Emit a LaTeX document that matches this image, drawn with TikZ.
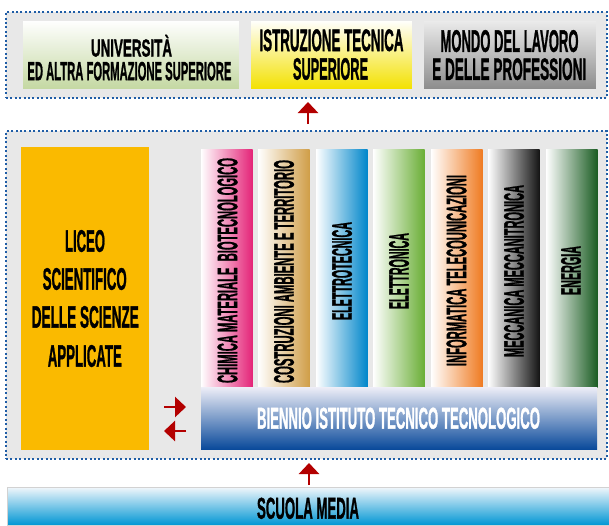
\documentclass[tikz,border=0pt]{standalone}
\usepackage{fontspec}
\usepackage{graphicx}
\usetikzlibrary{arrows.meta}
\newfontfamily\agfont{Liberation Sans}[FakeBold=1.6]
\newcommand{\ag}[3]{\resizebox*{#1pt}{#2pt}{\agfont\bfseries #3}}
\definecolor{dotblue}{HTML}{1F5DA6}
\definecolor{panelgray}{HTML}{E8E8E8}
\definecolor{arrred}{HTML}{B30000}
\definecolor{liceoc}{HTML}{FABA00}
\definecolor{c1}{HTML}{E42478}
\definecolor{c2}{HTML}{D09E48}
\definecolor{c3}{HTML}{0086CA}
\definecolor{c4}{HTML}{6AAE36}
\definecolor{c5}{HTML}{EF7B22}
\definecolor{c6}{HTML}{141414}
\definecolor{c7}{HTML}{1A5C22}
\definecolor{univb}{HTML}{C4D8A2}
\definecolor{istrb}{HTML}{F3E100}
\definecolor{mondot}{HTML}{ECECEC}
\definecolor{mondob}{HTML}{8C8C8C}
\definecolor{bientop}{HTML}{EEEEF7}
\definecolor{bienmid}{HTML}{8593C4}
\definecolor{bienbot}{HTML}{0A4A9B}
\definecolor{scuotop}{HTML}{F2F7FB}
\definecolor{scuomid}{HTML}{92C8EA}
\definecolor{scuobot}{HTML}{0096D4}
\tikzset{
  panel/.style={draw=dotblue, line width=2pt, dash pattern=on 2pt off 2.4pt, fill=panelgray},
  rbox/.style={anchor=north west, inner sep=0pt, outer sep=0pt},
  tbox/.style={rbox, draw=white!82!gray, line width=0.6pt},
  colbox/.style={rbox, left color=white, right color=#1, minimum width=51.5pt, minimum height=238pt},
  txt/.style={inner sep=0pt, outer sep=0pt},
  vtxt/.style={txt, rotate=90},
  arr/.style={-{Triangle[length=11pt,width=20pt]}, line width=2.6pt, draw=arrred}
}
\begin{document}
\begin{tikzpicture}[x=1pt,y=-1pt]
\useasboundingbox (0,0) rectangle (609,525);
% panels
\node[panel, rbox, minimum width=601pt, minimum height=86pt] (toppanel) at (6,12) {};
\node[panel, rbox, minimum width=601pt, minimum height=327.5pt] (midpanel) at (6,131) {};
% top boxes
\node[tbox, top color=white, bottom color=univb, minimum width=217pt, minimum height=69pt] (univ) at (22,20) {};
\node[tbox, top color=white, bottom color=istrb, minimum width=162pt, minimum height=69pt] (istr) at (250,20) {};
\node[tbox, top color=mondot, bottom color=mondob, minimum width=173pt, minimum height=69pt] (mondo) at (423,20) {};
\node[txt] (univt1) at (131.5,45.8) {\ag{81}{21.9}{UNIVERSITÀ}};
\node[txt] (univt2) at (129.4,71.2) {\ag{204}{18.6}{ED ALTRA FORMAZIONE SUPERIORE}};
\node[txt] (istrt1) at (331.5,40.3) {\ag{144}{22}{ISTRUZIONE TECNICA}};
\node[txt] (istrt2) at (330.5,69) {\ag{75}{21.8}{SUPERIORE}};
\node[txt] (mondot1) at (509.5,41.1) {\ag{138}{22}{MONDO DEL LAVORO}};
\node[txt] (mondot2) at (509.2,69.2) {\ag{154}{21.8}{E DELLE PROFESSIONI}};
% liceo
\node[rbox, fill=liceoc, minimum width=128pt, minimum height=303pt] (liceo) at (21,147) {};
\node[txt] (lic1) at (85,241) {\ag{40}{22}{LICEO}};
\node[txt] (lic2) at (84.7,279) {\ag{84}{22}{SCIENTIFICO}};
\node[txt] (lic3) at (85.3,317) {\ag{107}{22}{DELLE SCIENZE}};
\node[txt] (lic4) at (84.8,356) {\ag{74}{22}{APPLICATE}};
% columns
\node[colbox=c1] (col1) at (201,149) {};
\node[colbox=c2] (col2) at (258,149) {};
\node[colbox=c3] (col3) at (316,149) {};
\node[colbox=c4] (col4) at (373,149) {};
\node[colbox=c5] (col5) at (431,149) {};
\node[colbox=c6] (col6) at (488,149) {};
\node[colbox=c7] (col7) at (546,149) {};
\node[vtxt] (col1t) at (227.5,270.5) {\ag{225}{20}{CHIMICA MATERIALE~~BIOTECNOLOGICO}};
\node[vtxt] (col2t) at (284,271.5) {\ag{223}{20}{COSTRUZIONI AMBIENTE E TERRITORIO}};
\node[vtxt] (col3t) at (342,271) {\ag{98}{20}{ELETTROTECNICA}};
\node[vtxt] (col4t) at (399,271) {\ag{76}{20}{ELETTRONICA}};
\node[vtxt] (col5t) at (456.5,270.5) {\ag{191}{20}{INFORMATICA TELECOUNICAZIONI}};
\node[vtxt] (col6t) at (514,271) {\ag{172}{20}{MECCANICA MECCANITRONICA}};
\node[vtxt] (col7t) at (571,270.5) {\ag{49}{20}{ENERGIA}};
% biennio
\node[rbox, top color=bientop, middle color=bienmid, bottom color=bienbot, minimum width=396pt, minimum height=62pt] (bien) at (201,387) {};
\node[txt, text=white] (bient) at (398.5,418.3) {\ag{283}{21.3}{BIENNIO ISTITUTO TECNICO TECNOLOGICO}};
% scuola media
\node[rbox, draw=gray!35, line width=0.8pt, top color=scuotop, middle color=scuomid, bottom color=scuobot, minimum width=610pt, minimum height=38pt] (scuola) at (7,487) {};
\node[txt] (scuolat) at (308,508.3) {\ag{102}{21.3}{SCUOLA MEDIA}};
% arrows
\coordinate (a1s) at (308,124);
\coordinate (a1e) at (308,102);
\draw[arr] (a1s) -- (a1e);
\coordinate (a2s) at (309,485);
\coordinate (a2e) at (309,463);
\draw[arr] (a2s) -- (a2e);
\coordinate (a3s) at (164,407);
\coordinate (a3e) at (186,407);
\draw[arr] (a3s) -- (a3e);
\coordinate (a4s) at (186,431);
\coordinate (a4e) at (164,431);
\draw[arr] (a4s) -- (a4e);
\end{tikzpicture}
\end{document}
